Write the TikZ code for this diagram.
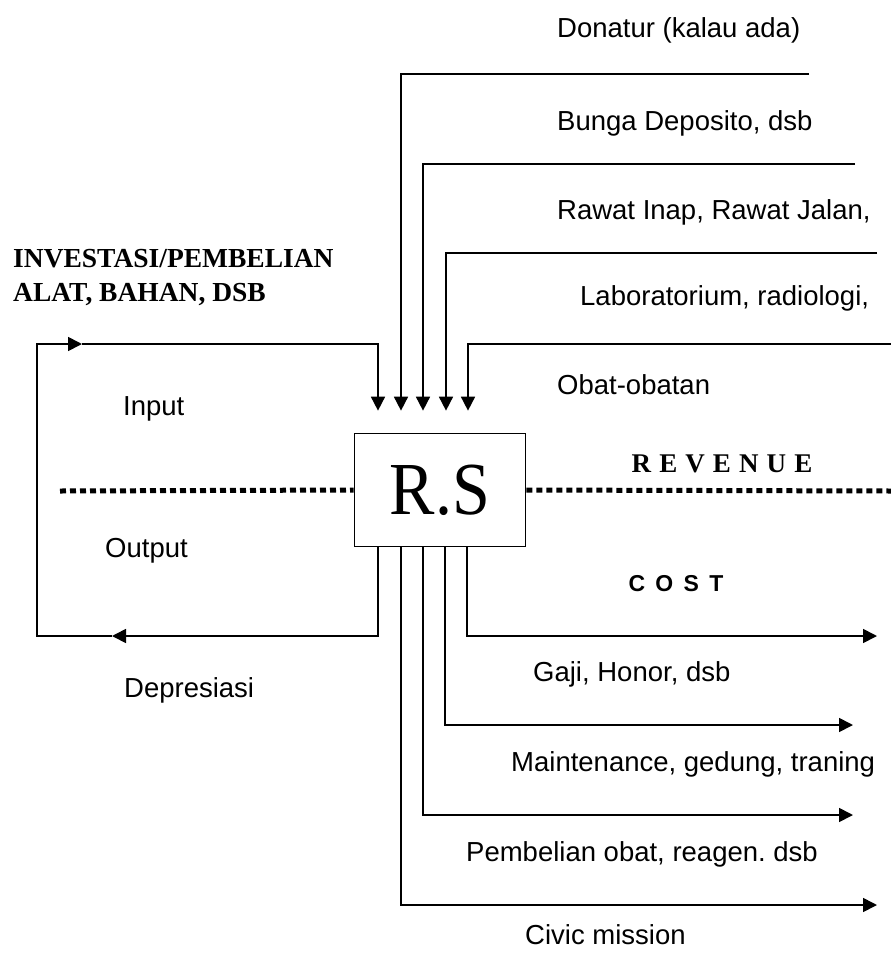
\documentclass[tikz,border=0pt]{standalone}
\usepackage{fontspec}
\setmainfont{Liberation Serif}
\setsansfont{Liberation Sans}
\newfontfamily\spacedserif[LetterSpace=30]{Liberation Serif}
\newfontfamily\spacedsans[LetterSpace=45]{Liberation Sans}
\usetikzlibrary{arrows.meta}
\frenchspacing

\tikzset{
  flow/.style={line width=1.7pt},
  flowarrow/.style={flow, -{Triangle[length=14pt,width=14pt]}},
  note/.style={inner sep=0pt, anchor=west, font=\sffamily\fontsize{27.5}{33}\selectfont},
  dotline/.style={line width=5pt, dash pattern=on 6pt off 4pt},
}

\begin{document}
\begin{tikzpicture}[x=1pt,y=-1pt]

  \useasboundingbox (0,0) rectangle (891,967);

  \node[draw, flow, minimum width=171pt, minimum height=113pt, inner sep=0pt,
        font=\fontsize{68}{68}\selectfont] (rs) at (440,490) {\scalebox{1}[1.1]{R.S}};

  % sources of revenue
  \foreach \x/\y/\e [count=\i] in {401/74/809, 423/164/855, 446/253/877, 468/344/891} {
    \coordinate (src\i) at (\e,\y);
    \draw[flowarrow, shorten >=22pt] (src\i) -| (\x,0 |- rs.north);
  }

  % costs
  \foreach \x/\y/\e [count=\i] in {467/636/877, 445/725/853, 423/815/853, 401/905/877} {
    \coordinate (sink\i) at (\e,\y);
    \draw[flowarrow] (\x,0 |- rs.south) |- (sink\i);
  }

  % investasi loop
  \coordinate (arrL) at (112,636);
  \coordinate (lpB) at (37,636);
  \coordinate (lpT) at (37,344);
  \coordinate (arrR) at (82,344);
  \draw[flowarrow] (378,0 |- rs.south) |- (arrL);
  \draw[flowarrow] (arrL) -- (lpB) -- (lpT) -- (arrR);
  \draw[flowarrow, shorten >=22pt] (arrR) -| (378,0 |- rs.north);

  % revenue / cost border
  \coordinate (revL) at (60,491);
  \coordinate (revR) at (891,491);
  \draw[dotline] (revL) -- (rs.west);
  \draw[dotline] (rs.east) -- (revR);

  \node[note] (don) at (557,30) {Donatur (kalau ada)};
  \node[note] (bunga) at (557,123) {Bunga Deposito, dsb};
  \node[note] (rawat) at (557,212) {Rawat Inap, Rawat Jalan,};
  \node[note] (lab) at (580,298) {Laboratorium, radiologi,};
  \node[note] (obat) at (557,385) {Obat-obatan};

  \node[inner sep=0pt, font=\spacedserif\bfseries\fontsize{27}{27}\selectfont] (rev) at (722,464) {REVENUE};
  \node[inner sep=0pt, font=\spacedsans\bfseries\fontsize{23}{23}\selectfont] (cost) at (676,584) {COST};

  \node[note] (gaji) at (533,674) {Gaji, Honor, dsb};
  \node[note] (maint) at (511,764) {Maintenance, gedung, traning};
  \node[note] (beli) at (466,854) {Pembelian obat, reagen. dsb};
  \node[note] (civic) at (525,935) {Civic mission};

  \node[inner sep=0pt, anchor=west, align=left,
        font=\bfseries\fontsize{27.5}{34}\selectfont] (inv) at (13,278)
        {INVESTASI/PEMBELIAN\\ALAT, BAHAN, DSB};
  \node[note] (input) at (123,409) {Input};
  \node[note] (output) at (105,551) {Output};
  \node[note] (depr) at (124,690) {Depresiasi};

\end{tikzpicture}
\end{document}
